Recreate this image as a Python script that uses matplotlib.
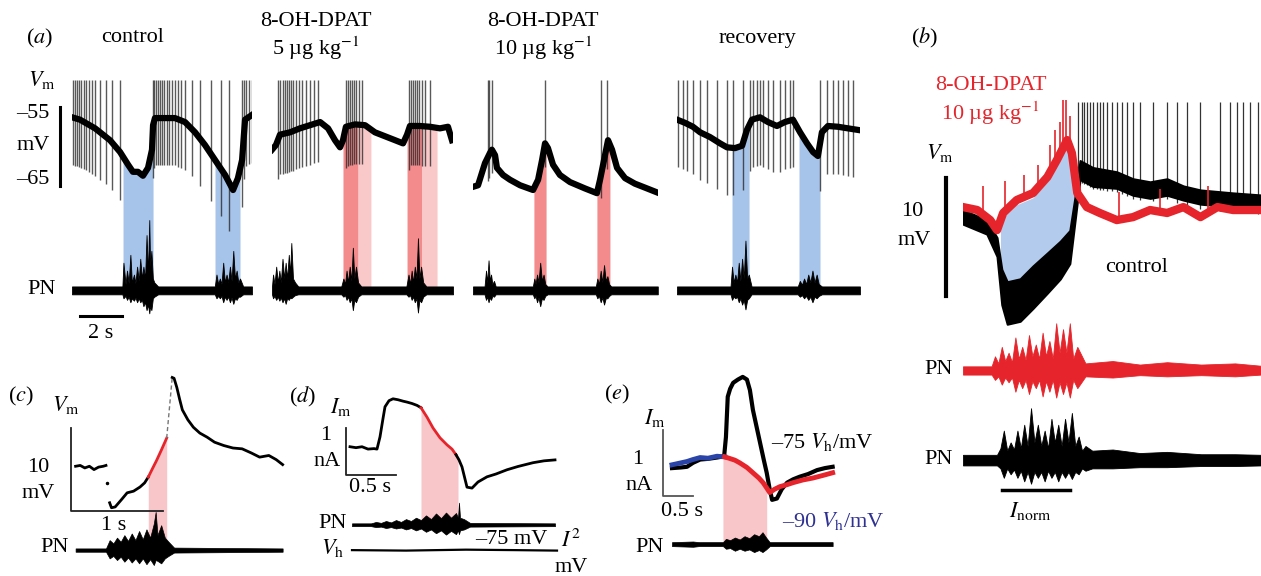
import numpy as np
import matplotlib
matplotlib.use('Agg')
import matplotlib.pyplot as plt

plt.rcParams['font.family'] = ['Liberation Serif', 'DejaVu Serif']
plt.rcParams['mathtext.fontset'] = 'stix'
plt.rcParams['font.size'] = 16

RED = '#e5252b'
BLUE_SHADE = '#a6c3e9'
RED_SHADE = '#f38b8d'
RED_LIGHT = '#f9c8c9'
PINK = '#f8c5c8'
BLUE = '#2a44a8'
NAVY = '#2e3192'

# ---------------- (a) membrane potential (s, mV) and PN (a.u.) ----------------
ctl_t = [0, 0.38, 1.10, 1.81, 2.29, 2.67, 2.90, 3.14, 3.38, 3.62, 3.81, 3.86, 3.95, 4.43, 4.90,
         5.38, 5.86, 6.33, 6.81, 7.29, 7.67, 7.90, 8.10, 8.24, 8.57]
ctl_v = [-56.3, -56.6, -57.7, -59.2, -60.7, -62.3, -63.2, -63.2, -63.7, -62.7, -60.4, -57.3, -56.4,
         -56.4, -56.4, -56.9, -58.2, -59.8, -61.7, -63.6, -65.5, -64.0, -61.7, -56.6, -56.0]
ctl_spikes = [0.05, 0.15, 0.25, 0.35, 0.45, 0.55, 0.65, 0.8, 0.95, 1.1, 1.35, 1.6, 1.9, 2.3,
              3.85, 3.92, 4.0, 4.1, 4.2, 4.3, 4.4, 4.5, 4.6, 4.75, 4.9, 5.05, 5.2, 5.4,
              5.7, 6.1, 6.6, 7.1, 7.5, 8.1, 8.2, 8.3, 8.45, 8.55]
ctl_shades = [(2.43, 3.86), (6.81, 8.0)]
ctl_pn_t = [0, 2.4, 2.45, 2.55, 2.62, 2.7, 2.78, 2.85, 2.95, 3.02, 3.1, 3.18, 3.25, 3.33, 3.4,
            3.48, 3.55, 3.62, 3.68, 3.72, 3.78, 3.85, 3.92, 4.1,
            6.8, 6.88, 6.96, 7.04, 7.12, 7.2, 7.28, 7.36, 7.44, 7.52, 7.6, 7.68, 7.76, 7.84, 7.92,
            8.0, 8.15, 8.57]
ctl_pn_up = [0.5, 0.5, 3.5, 0.8, 2.5, 0.9, 4.5, 1.0, 2.0, 0.9, 3.0, 1.2, 4.0, 1.5, 3.0,
             1.5, 7.0, 2.0, 8.9, 3.0, 5.0, 1.5, 1.0, 0.5,
             0.5, 2.0, 0.8, 1.5, 0.8, 3.5, 1.0, 2.0, 1.0, 3.0, 1.2, 5.0, 1.5, 2.5, 1.0,
             1.5, 0.5, 0.5]
ctl_pn_dn = [0.5, 0.5, 1.0, 0.7, 1.2, 0.8, 1.5, 1.0, 1.3, 0.9, 1.5, 1.0, 1.5, 1.2, 2.0,
             1.5, 2.5, 1.8, 2.9, 2.0, 2.5, 1.0, 0.8, 0.5,
             0.5, 1.0, 0.7, 1.0, 0.7, 1.5, 0.8, 1.2, 0.8, 1.5, 0.9, 1.7, 1.0, 1.2, 0.8,
             0.8, 0.5, 0.5]

d5_t = [0, 0.19, 0.38, 0.86, 1.33, 1.81, 2.29, 2.67, 3.0, 3.24, 3.38, 3.52, 3.95, 4.43, 4.9, 5.38,
        5.86, 6.24, 6.43, 6.57, 7.05, 7.52, 8.0, 8.38, 8.57]
d5_v = [-60.4, -59.8, -58.5, -58.2, -57.7, -57.3, -56.9, -57.7, -59.2, -60.1, -59.2, -57.5, -57.2,
        -57.3, -58.2, -58.7, -59.2, -59.6, -58.5, -57.4, -57.4, -57.5, -57.7, -57.5, -59.2]
d5_spikes = [0.3, 0.4, 0.5, 0.6, 0.7, 0.8, 0.9, 1.0, 1.15, 1.3, 1.45, 1.6, 1.8, 2.0, 2.2,
             3.5, 3.6, 3.7, 3.8, 3.9, 4.0, 4.15, 4.3, 6.5, 6.6, 6.7, 6.8, 6.9, 7.0, 7.15, 7.3, 7.5]
d5_shades_dark = [(3.38, 4.1), (6.43, 7.14)]
d5_shades_light = [(4.1, 4.71), (7.14, 7.86)]
d5_pn_t = [0, 0.05, 0.12, 0.2, 0.28, 0.35, 0.42, 0.5, 0.58, 0.65, 0.72, 0.8, 0.86, 0.92, 1.0, 1.1,
           1.25,
           3.3, 3.4, 3.48, 3.55, 3.62, 3.7, 3.78, 3.85, 3.92, 4.0, 4.1, 4.25,
           6.4, 6.5, 6.58, 6.65, 6.72, 6.8, 6.88, 6.95, 7.02, 7.1, 7.2, 7.35, 8.62]
d5_pn_up = [0.5, 2.0, 0.8, 3.0, 1.0, 2.5, 1.0, 4.0, 1.5, 3.5, 1.5, 4.5, 2.0, 6.0, 1.5, 1.0,
            0.5,
            0.5, 1.5, 0.8, 2.5, 1.0, 3.0, 1.2, 5.4, 1.5, 3.0, 1.0, 0.5,
            0.5, 2.0, 0.8, 2.5, 1.0, 3.0, 1.5, 6.6, 1.5, 3.0, 1.0, 0.5, 0.5]
d5_pn_dn = [0.5, 1.0, 0.7, 1.2, 0.8, 1.3, 0.9, 1.5, 1.0, 1.7, 1.0, 1.2, 0.9, 1.0, 0.8, 0.6,
            0.5,
            0.5, 0.8, 0.6, 1.2, 0.8, 1.5, 1.0, 2.5, 1.2, 1.5, 0.8, 0.5,
            0.5, 0.8, 0.6, 1.2, 0.8, 1.5, 1.0, 2.8, 1.2, 1.5, 0.8, 0.5, 0.5]

d10_t = [0, 0.24, 0.57, 0.81, 0.9, 1.05, 1.14, 1.43, 1.76, 2.24, 2.86, 3.1, 3.29, 3.43, 3.57, 3.81,
         4.14, 4.62, 5.33, 5.9, 6.05, 6.24, 6.43, 6.62, 6.86, 7.24, 7.71, 8.19, 8.76]
d10_v = [-65.1, -64.9, -62.1, -60.8, -60.4, -61.1, -62.7, -63.6, -64.2, -64.9, -65.5, -64.2, -61.7,
         -59.6, -60.2, -62.3, -63.6, -64.5, -65.3, -65.9, -64.2, -61.7, -59.2, -60.4, -62.7, -64.0,
         -64.7, -65.2, -65.8]
d10_spikes = [0.71, 0.78, 0.9, 3.43, 6.1, 6.38]
d10_shades = [(2.9, 3.48), (5.9, 6.52)]
d10_pn_t = [0, 0.55, 0.62, 0.68, 0.74, 0.8, 0.86, 0.92, 1.0, 1.08,
            2.85, 2.92, 2.98, 3.05, 3.12, 3.2, 3.28, 3.36, 3.44, 3.55,
            5.85, 5.92, 6.0, 6.08, 6.16, 6.24, 6.32, 6.4, 6.48, 6.58, 8.8]
d10_pn_up = [0.5, 0.5, 2.5, 1.0, 3.8, 1.2, 2.0, 0.8, 1.2, 0.5,
             0.5, 1.5, 0.8, 2.0, 1.0, 3.5, 1.2, 2.0, 0.8, 0.5,
             0.5, 1.5, 0.8, 2.5, 1.0, 3.2, 1.2, 1.8, 0.8, 0.5, 0.5]
d10_pn_dn = [0.5, 0.5, 1.2, 0.8, 1.5, 0.9, 1.2, 0.7, 0.8, 0.5,
             0.5, 1.0, 0.7, 1.5, 0.9, 2.0, 1.0, 1.2, 0.7, 0.5,
             0.5, 1.0, 0.7, 1.5, 0.9, 1.8, 1.0, 1.0, 0.7, 0.5, 0.5]

rec_t = [0, 0.38, 0.76, 1.1, 1.57, 2.05, 2.38, 2.76, 3.1, 3.33, 3.57, 3.95, 4.33, 4.76, 5.14, 5.52,
         5.86, 6.19, 6.48, 6.71, 6.9, 7.19, 7.67, 8.14, 8.62]
rec_v = [-56.6, -57.0, -57.5, -58.2, -58.8, -59.6, -60.1, -60.2, -59.9, -57.9, -56.6, -56.3, -56.9,
         -57.4, -56.9, -56.6, -58.2, -59.6, -60.7, -61.2, -58.2, -57.4, -57.5, -57.7, -57.9]
rec_spikes = [0.05, 0.29, 0.48, 0.76, 1.1, 1.43, 1.9, 2.38, 2.67, 3.14, 3.48, 3.62, 3.81, 3.95,
              4.1, 4.33, 4.57, 4.9, 5.14, 5.38, 5.52, 6.81, 7.14, 7.43, 7.67, 7.9, 8.14, 8.38]
rec_shades = [(2.62, 3.43), (5.81, 6.81)]
rec_pn_t = [0, 2.55, 2.62, 2.7, 2.78, 2.86, 2.94, 3.02, 3.1, 3.18, 3.26, 3.34, 3.42, 3.55,
            5.75, 5.85, 5.95, 6.05, 6.15, 6.25, 6.35, 6.45, 6.55, 6.65, 6.75, 6.9, 8.71]
rec_pn_up = [0.5, 0.5, 3.0, 1.0, 2.0, 1.0, 3.5, 1.2, 4.0, 1.5, 6.3, 1.5, 2.0, 0.5,
             0.5, 1.2, 0.7, 1.5, 0.8, 2.0, 1.0, 2.5, 1.0, 2.0, 0.8, 0.5, 0.5]
rec_pn_dn = [0.5, 0.5, 1.2, 0.8, 1.0, 0.8, 1.5, 1.0, 1.8, 1.2, 2.4, 1.2, 1.0, 0.5,
             0.5, 0.8, 0.6, 1.0, 0.7, 1.2, 0.8, 1.5, 0.8, 1.0, 0.7, 0.5, 0.5]

PN_BASE = -78.2
SPIKE_TOP = -51.6

# ---------------- (b) relative Vm (s, mV) ----------------
b_red_t = [0, 0.21, 0.40, 0.5, 0.59, 0.79, 1.03, 1.24, 1.38, 1.53, 1.6, 1.68, 1.82, 2.01, 2.26,
           2.5, 2.75, 3.0, 3.24, 3.49, 3.74, 3.97, 4.37]
b_red_v = [0.25, 0, -0.85, -1.7, -0.25, 0.85, 1.44, 2.8, 4.24, 5.93, 4.83, 1.44, 0.25, -0.25, -0.85,
           -0.6, 0, -0.25, 0.25, -0.6, 0.25, 0, 0]
b_red_spikes = [0.3, 0.62, 0.9, 1.1, 1.28, 1.35, 1.42, 1.47, 1.52, 1.57, 2.3, 2.9, 3.6]
b_red_spike_top = [2.0, 2.5, 3.0, 3.8, 5.5, 6.8, 7.5, 9.3, 9.3, 8.0, 1.5, 1.8, 2.0]
b_ctl_t = [0, 0.35, 0.5, 0.57, 0.65, 0.84, 1.03, 1.24, 1.43, 1.57, 1.65, 1.72, 1.91, 2.26, 2.5,
           2.75, 3.0, 3.24, 3.49, 3.97, 4.37]
b_ctl_v = [-0.6, -1.44, -3.14, -6.53, -7.88, -7.63, -6.53, -5.34, -4.24, -3.14, 0.25, 3.39, 2.8,
           2.54, 1.95, 1.69, 1.95, 1.44, 1.1, 0.85, 0.68]
b_ctl_w = [0.6, 0.6, 0.8, 1.5, 1.8, 1.8, 1.8, 1.7, 1.6, 1.4, 1.0, 0.8, 0.8, 0.7, 0.7, 0.7, 0.7,
           0.6, 0.6, 0.6, 0.6]
b_ctl_spikes = [1.69, 1.75, 1.78, 1.82, 1.87, 1.91, 1.97, 2.01, 2.06, 2.12, 2.19, 2.26, 2.34, 2.41,
                2.5, 2.6, 2.79, 3.0, 3.15, 3.29, 3.49, 3.78, 3.93, 4.03, 4.12, 4.22, 4.34]
b_pn_red_t = [0, 0.42, 0.47, 0.52, 0.57, 0.62, 0.67, 0.72, 0.77, 0.82, 0.87, 0.92, 0.97, 1.02,
              1.07, 1.12, 1.17, 1.22, 1.27, 1.32, 1.37, 1.42, 1.47, 1.52, 1.57, 1.62,
              1.68, 1.8, 2.2, 2.6, 3.0, 3.5, 4.0, 4.38]
b_pn_red_up = [0.35, 0.35, 1.2, 0.6, 2.0, 0.8, 1.5, 0.7, 2.8, 1.0, 2.0, 0.9, 3.0, 1.2,
               2.2, 1.0, 3.2, 1.2, 2.5, 1.0, 4.0, 1.5, 3.5, 1.5, 4.0, 1.0,
               2.0, 0.6, 0.8, 0.5, 0.7, 0.5, 0.6, 0.4]
b_pn_red_dn = [0.35, 0.35, 0.8, 0.5, 1.2, 0.6, 1.0, 0.6, 1.8, 0.8, 1.5, 0.8, 2.0, 0.9,
               1.5, 0.8, 2.2, 0.9, 1.8, 0.8, 2.3, 1.0, 2.0, 1.0, 2.3, 0.8,
               1.5, 0.5, 0.6, 0.4, 0.5, 0.4, 0.5, 0.35]
b_pn_ctl_t = [0, 0.5, 0.55, 0.6, 0.65, 0.7, 0.75, 0.8, 0.85, 0.9, 0.95, 1.0, 1.05, 1.1, 1.15,
              1.2, 1.25, 1.3, 1.35, 1.4, 1.45, 1.5, 1.55, 1.6, 1.65, 1.7, 1.75, 1.8,
              1.9, 2.2, 2.6, 3.0, 3.5, 4.0, 4.38]
b_pn_ctl_up = [0.45, 0.45, 1.0, 2.5, 0.8, 1.5, 0.9, 2.5, 1.0, 3.0, 1.2, 4.4, 1.5, 3.0, 1.2,
               2.5, 1.0, 3.5, 1.5, 3.0, 1.2, 3.5, 1.5, 4.0, 1.2, 2.0, 0.8, 1.2,
               0.8, 0.9, 0.6, 0.7, 0.5, 0.5, 0.45]
b_pn_ctl_dn = [0.45, 0.45, 0.7, 1.5, 0.7, 1.2, 0.8, 1.5, 0.9, 1.8, 1.0, 2.0, 1.0, 1.5, 1.0,
               1.8, 0.9, 1.5, 1.0, 1.8, 1.0, 1.5, 1.0, 1.6, 1.0, 1.2, 0.7, 0.9,
               0.7, 0.7, 0.6, 0.6, 0.5, 0.5, 0.45]
B_PN_RED_BASE = -13.6
B_PN_CTL_BASE = -21.2
B_SPIKE_TOP = 9.15

# ---------------- (c) Vm (s, mV) ----------------
c_seg1_t = [0.05, 0.1, 0.15, 0.2, 0.25, 0.3, 0.35, 0.38]
c_seg1_v = [5.4, 5.5, 5.2, 5.4, 5.0, 5.3, 5.4, 5.5]
c_dot = (0.39, 3.4)
c_seg2_t = [0.42, 0.44, 0.48, 0.55, 0.61, 0.68, 0.75, 0.80, 0.84]
c_seg2_v = [1.0, 0.4, 0.5, 1.4, 2.2, 2.4, 2.9, 3.4, 4.1]
c_red_t = [0.84, 0.88, 0.93, 0.98, 1.04]
c_red_v = [4.1, 5.0, 6.1, 7.3, 8.8]
c_gap_t = [1.04, 1.10]
c_gap_v = [8.8, 16.1]
c_seg3_t = [1.10, 1.12, 1.15, 1.18, 1.21, 1.27, 1.33, 1.40, 1.48, 1.56, 1.66, 1.76, 1.86, 1.96,
            2.05, 2.15, 2.23, 2.3]
c_seg3_v = [16.1, 16.0, 14.9, 13.5, 12.2, 11.0, 10.1, 9.4, 8.9, 8.3, 7.9, 7.6, 7.5, 7.0, 6.5, 6.7,
            6.2, 5.6]
c_pn_t = [0.05, 0.38, 0.42, 0.46, 0.5, 0.54, 0.58, 0.62, 0.66, 0.7, 0.74, 0.78, 0.82, 0.86, 0.9,
          0.92, 0.94, 0.98, 1.02, 1.06, 1.12, 2.3]
c_pn_up = [0.2, 0.2, 1.2, 0.8, 1.5, 1.0, 1.8, 1.1, 2.0, 1.2, 2.3, 1.3, 2.5, 1.5, 3.2,
           4.6, 1.8, 3.0, 1.5, 1.0, 0.3, 0.2]
c_pn_dn = [0.2, 0.2, 1.0, 0.7, 1.2, 0.8, 1.4, 0.9, 1.5, 1.0, 1.6, 1.0, 1.7, 1.1, 1.8,
           1.2, 1.3, 1.6, 1.0, 0.7, 0.3, 0.2]
C_PN_BASE = -4.7

# ---------------- (d) Im (s, nA) ----------------
d_pre_t = [0.04, 0.1, 0.16, 0.22, 0.28, 0.31, 0.34, 0.37, 0.39, 0.43, 0.47, 0.52, 0.57, 0.61, 0.66,
           0.71, 0.75]
d_pre_v = [0.6, 0.58, 0.6, 0.55, 0.56, 0.55, 0.81, 1.2, 1.45, 1.58, 1.62, 1.6, 1.57, 1.55, 1.52,
           1.48, 1.43]
d_red_t = [0.75, 0.81, 0.87, 0.94, 1.01, 1.06, 1.10]
d_red_v = [1.43, 1.23, 1.0, 0.79, 0.64, 0.55, 0.43]
d_post_t = [1.10, 1.13, 1.16, 1.21, 1.26, 1.32, 1.41, 1.5, 1.61, 1.72, 1.87, 1.98, 2.09]
d_post_v = [0.43, 0.32, 0.17, -0.26, -0.28, -0.15, -0.04, 0.02, 0.11, 0.18, 0.26, 0.3, 0.32]
d_pn_t = [0.06, 0.25, 0.3, 0.35, 0.4, 0.45, 0.5, 0.55, 0.6, 0.65, 0.7, 0.75, 0.8, 0.85, 0.9,
          0.95, 1.0, 1.05, 1.1, 1.12, 1.13, 1.14, 1.18, 1.24, 2.09]
d_pn_up = [0.03, 0.03, 0.06, 0.04, 0.08, 0.05, 0.1, 0.06, 0.12, 0.08, 0.15, 0.1, 0.2, 0.12, 0.24,
           0.14, 0.26, 0.15, 0.25, 0.15, 0.47, 0.15, 0.12, 0.04, 0.03]
d_pn_dn = [0.03, 0.03, 0.05, 0.04, 0.07, 0.05, 0.08, 0.06, 0.1, 0.07, 0.12, 0.08, 0.15, 0.1, 0.18,
           0.12, 0.21, 0.13, 0.2, 0.12, 0.2, 0.12, 0.1, 0.04, 0.03]
d_vh_t = [0.06, 0.6, 1.2, 1.7, 2.11]
d_vh_v = [-1.6, -1.61, -1.59, -1.6, -1.61]
D_PN_BASE = -1.06

# ---------------- (e) Im (s, nA) at two holding potentials ----------------
e_blue_t = [0.15, 0.3, 0.4, 0.5, 0.62, 0.75, 0.9, 1.03]
e_blue_v = [0.47, 0.5, 0.52, 0.55, 0.58, 0.57, 0.6, 0.59]
e_blk_t = [0.15, 0.3, 0.4, 0.5, 0.62, 0.75, 0.9, 1.02, 1.05, 1.08, 1.12, 1.17, 1.25, 1.33, 1.4,
           1.45, 1.5, 1.56, 1.62, 1.68, 1.73, 1.78, 1.82, 1.9, 1.98, 2.07, 2.17, 2.28, 2.42, 2.57,
           2.7, 2.83]
e_blk_v = [0.42, 0.43, 0.44, 0.5, 0.55, 0.56, 0.58, 0.6, 0.89, 1.5, 1.62, 1.71, 1.76, 1.8, 1.76,
           1.6, 1.3, 1.05, 0.8, 0.55, 0.35, 0.1, -0.06, -0.04, 0.1, 0.2, 0.25, 0.29, 0.33, 0.39,
           0.42, 0.44]
e_red_t = [1.03, 1.1, 1.2, 1.28, 1.4, 1.5, 1.6, 1.67, 1.73, 1.78, 1.86, 1.95, 2.07, 2.17, 2.33,
           2.5, 2.67, 2.83]
e_red_v = [0.59, 0.57, 0.54, 0.5, 0.43, 0.35, 0.27, 0.2, 0.12, 0.05, 0.1, 0.14, 0.17, 0.2, 0.24,
           0.27, 0.31, 0.35]
e_pn_t = [0.15, 0.5, 0.6, 1.0, 1.05, 1.12, 1.2, 1.28, 1.36, 1.44, 1.52, 1.6, 1.66, 1.72, 1.78, 2.83]
e_pn_up = [0.03, 0.04, 0.03, 0.03, 0.08, 0.06, 0.1, 0.07, 0.12, 0.09, 0.15, 0.12, 0.18, 0.1, 0.03,
           0.03]
e_pn_dn = [0.03, 0.04, 0.03, 0.03, 0.07, 0.06, 0.1, 0.07, 0.1, 0.08, 0.12, 0.09, 0.12, 0.08, 0.03,
           0.03]
E_PN_BASE = -0.73

# ---------------- figure ----------------
W, H = 1261, 576
fig = plt.figure(figsize=(W / 100, H / 100), dpi=100)


def px_axes(x0, y0, x1, y1):
    ax = fig.add_axes([x0 / W, 1 - y1 / H, (x1 - x0) / W, (y1 - y0) / H])
    ax.set_axis_off()
    return ax


def label(x, y, s, **kw):
    kw.setdefault('ha', 'center')
    kw.setdefault('va', 'center')
    fig.text(x / W, 1 - y / H, s, **kw)


def shade(ax, t0, t1, tt, vv, bottom, color):
    g = np.linspace(t0, t1, 60)
    ax.fill_between(g, bottom, np.interp(g, tt, vv), color=color, lw=0, zorder=0)


def pn(ax, tt, up, dn, base, color='k', lw=0.6):
    tt = np.asarray(tt)
    ax.fill_between(tt, base + np.asarray(up), base - np.asarray(dn), color=color,
                    lw=lw, edgecolor=color, zorder=3)


def panel_a(box, tt, vv, spikes, depth, shades, pt, pu, pd):
    ax = px_axes(*box)
    ax.set_xlim(0, (box[2] - box[0]) / 21)
    ax.set_ylim(-82.2, -51.33)
    for t0, t1, col in shades:
        shade(ax, t0, t1, tt, vv, PN_BASE, col)
    sp = np.asarray(spikes)
    ax.vlines(sp, np.interp(sp, tt, vv) - depth, SPIKE_TOP, color='#222222', lw=1.0, alpha=0.75,
              zorder=2)
    ax.plot(tt, vv, color='k', lw=4.5, zorder=3)
    pn(ax, pt, pu, pd, PN_BASE)
    return ax


ax_ctl = panel_a((72, 78, 252, 322), ctl_t, ctl_v, ctl_spikes, 6,
                 [(a, b, BLUE_SHADE) for a, b in ctl_shades], ctl_pn_t, ctl_pn_up, ctl_pn_dn)
panel_a((272, 78, 453, 322), d5_t, d5_v, d5_spikes, 5,
        [(a, b, RED_SHADE) for a, b in d5_shades_dark] + [(a, b, RED_LIGHT) for a, b in d5_shades_light],
        d5_pn_t, d5_pn_up, d5_pn_dn)
panel_a((473, 78, 658, 322), d10_t, d10_v, d10_spikes, 3,
        [(a, b, RED_SHADE) for a, b in d10_shades], d10_pn_t, d10_pn_up, d10_pn_dn)
panel_a((677, 78, 860, 322), rec_t, rec_v, rec_spikes, 6,
        [(a, b, BLUE_SHADE) for a, b in rec_shades], rec_pn_t, rec_pn_up, rec_pn_dn)

# scale bars for (a)
ax_ctl.plot([-0.57, -0.57], [-55, -65], color='k', lw=2.2, clip_on=False)
ax_ctl.plot([0.38, 2.38], [-81.5, -81.5], color='k', lw=2.2, clip_on=False)

label(40, 38, r'($\mathit{a}$)')
label(133, 38, 'control')
label(316, 22, '8-OH-DPAT')
label(316, 48, r'5 µg kg$^{-1}$')
label(543, 22, '8-OH-DPAT')
label(543, 48, r'10 µg kg$^{-1}$')
label(757, 38, 'recovery')
label(42, 80, r'$V_\mathrm{m}$')
label(33, 114, '–55')
label(33, 145, 'mV')
label(33, 180, '–65')
label(42, 289, 'PN')
label(101, 334, '2 s')

# ---------------- (b) ----------------
axb = px_axes(963, 95, 1261, 500)
axb.set_xlim(0, 4.38)
axb.set_ylim(-24.58, 9.75)
g = np.linspace(0.55, 1.66, 80)
lo = np.interp(g, b_ctl_t, b_ctl_v) + np.interp(g, b_ctl_t, b_ctl_w)
hi = np.interp(g, b_red_t, b_red_v) - 0.4
axb.fill_between(g, lo, hi, where=hi > lo, color='#b3cbec', lw=0, zorder=1)
bs = np.asarray(b_ctl_spikes)
axb.vlines(bs, np.interp(bs, b_ctl_t, b_ctl_v) - 1.0, B_SPIKE_TOP, color='k', lw=0.9, alpha=0.8, zorder=2)
bt = np.asarray(b_ctl_t)
axb.fill_between(bt, np.asarray(b_ctl_v) - np.asarray(b_ctl_w), np.asarray(b_ctl_v) + np.asarray(b_ctl_w),
                 color='k', lw=1.5, edgecolor='k', zorder=2)
axb.vlines(b_red_spikes, np.interp(b_red_spikes, b_red_t, b_red_v), b_red_spike_top,
           color=RED, lw=1.2, zorder=3)
axb.plot(b_red_t, b_red_v, color=RED, lw=6, zorder=3)
pn(axb, b_pn_red_t, b_pn_red_up, b_pn_red_dn, B_PN_RED_BASE, color=RED)
pn(axb, b_pn_ctl_t, b_pn_ctl_up, b_pn_ctl_dn, B_PN_CTL_BASE)
axb.plot([-0.25, -0.25], [2.71, -7.29], color='k', lw=3, clip_on=False)
axb.plot([0.57, 1.57], [-23.7, -23.7], color='k', lw=2.5)

label(925, 38, r'($\mathit{b}$)')
label(991, 85, '8-OH-DPAT', color=RED)
label(990, 113, r'10 µg kg$^{-1}$', color=RED)
label(940, 153, r'$V_\mathrm{m}$')
label(912, 211, '10')
label(914, 240, 'mV')
label(1137, 268, 'control')
label(939, 370, 'PN')
label(939, 460, 'PN')
label(1030, 511, r'$I_\mathrm{norm}$')

# ---------------- (c) ----------------
axc = px_axes(71, 370, 290, 570)
axc.set_xlim(0, 2.38)
axc.set_ylim(-7.1, 17.0)
axc.plot([0, 0, 1], [10, 0, 0], color='#222222', lw=1.3, clip_on=False)
shade(axc, 0.84, 1.04, c_red_t, c_red_v, C_PN_BASE, PINK)
axc.plot(c_seg1_t, c_seg1_v, color='k', lw=2.0)
axc.plot([c_dot[0]], [c_dot[1]], 'o', color='k', ms=1.5)
axc.plot(c_seg2_t, c_seg2_v, color='k', lw=2.0)
axc.plot(c_red_t, c_red_v, color=RED, lw=2.0)
axc.plot(c_gap_t, c_gap_v, color='#777777', lw=1.0, ls=(0, (3, 2)))
axc.plot(c_seg3_t, c_seg3_v, color='k', lw=2.0)
pn(axc, c_pn_t, c_pn_up, c_pn_dn, C_PN_BASE, lw=0.5)

label(21, 396, r'($\mathit{c}$)')
label(66, 405, r'$V_\mathrm{m}$')
label(38, 467, '10')
label(38, 493, 'mV')
label(114, 525, '1 s')
label(55, 548, 'PN')

# ---------------- (d) ----------------
axd = px_axes(346, 380, 560, 560)
axd.set_xlim(0, 2.14)
axd.set_ylim(-1.81, 2.02)
axd.plot([0, 0, 0.5], [1, 0, 0], color='#222222', lw=1.3, clip_on=False)
shade(axd, 0.75, 1.12, d_red_t + d_post_t, d_red_v + d_post_v, D_PN_BASE, PINK)
axd.plot(d_pre_t, d_pre_v, color='k', lw=2.0)
axd.plot(d_red_t, d_red_v, color=RED, lw=2.0)
axd.plot(d_post_t, d_post_v, color='k', lw=2.0)
pn(axd, d_pn_t, d_pn_up, d_pn_dn, D_PN_BASE, lw=0.5)
axd.plot(d_vh_t, d_vh_v, color='k', lw=1.6)

label(303, 397, r'($\mathit{d}$)')
label(341, 407, r'$I_\mathrm{m}$')
label(326, 436, '1')
label(327, 461, 'nA')
label(370, 488, '0.5 s')
label(333, 523, 'PN')
label(333, 548, r'$V_\mathrm{h}$')
label(511, 540, '–75 mV')
label(571, 541, r'$I^2$')
label(571, 567, 'mV')

# ---------------- (e) ----------------
axe = px_axes(663, 365, 880, 560)
axe.set_xlim(0, 3.62)
axe.set_ylim(-0.97, 1.98)
axe.plot([0, 0, 0.5], [1, 0, 0], color='#555555', lw=1.3, clip_on=False)
shade(axe, 1.0, 1.73, e_blue_t + e_red_t, e_blue_v + e_red_v, E_PN_BASE, PINK)
axe.plot(e_blk_t, e_blk_v, color='k', lw=3.0)
axe.plot(e_blue_t, e_blue_v, color=BLUE, lw=3.5)
axe.plot(e_red_t, e_red_v, color=RED, lw=3.5)
pn(axe, e_pn_t, e_pn_up, e_pn_dn, E_PN_BASE, lw=0.5)

label(617, 394, r'($\mathit{e}$)')
label(655, 418, r'$I_\mathrm{m}$')
label(638, 460, '1')
label(639, 485, 'nA')
label(682, 512, '0.5 s')
label(650, 548, 'PN')
label(822, 442, r'–75 $V_\mathrm{h}$/mV')
label(833, 521, r'–90 $V_\mathrm{h}$/mV', color=NAVY)

fig.savefig('out.png', dpi=100)
